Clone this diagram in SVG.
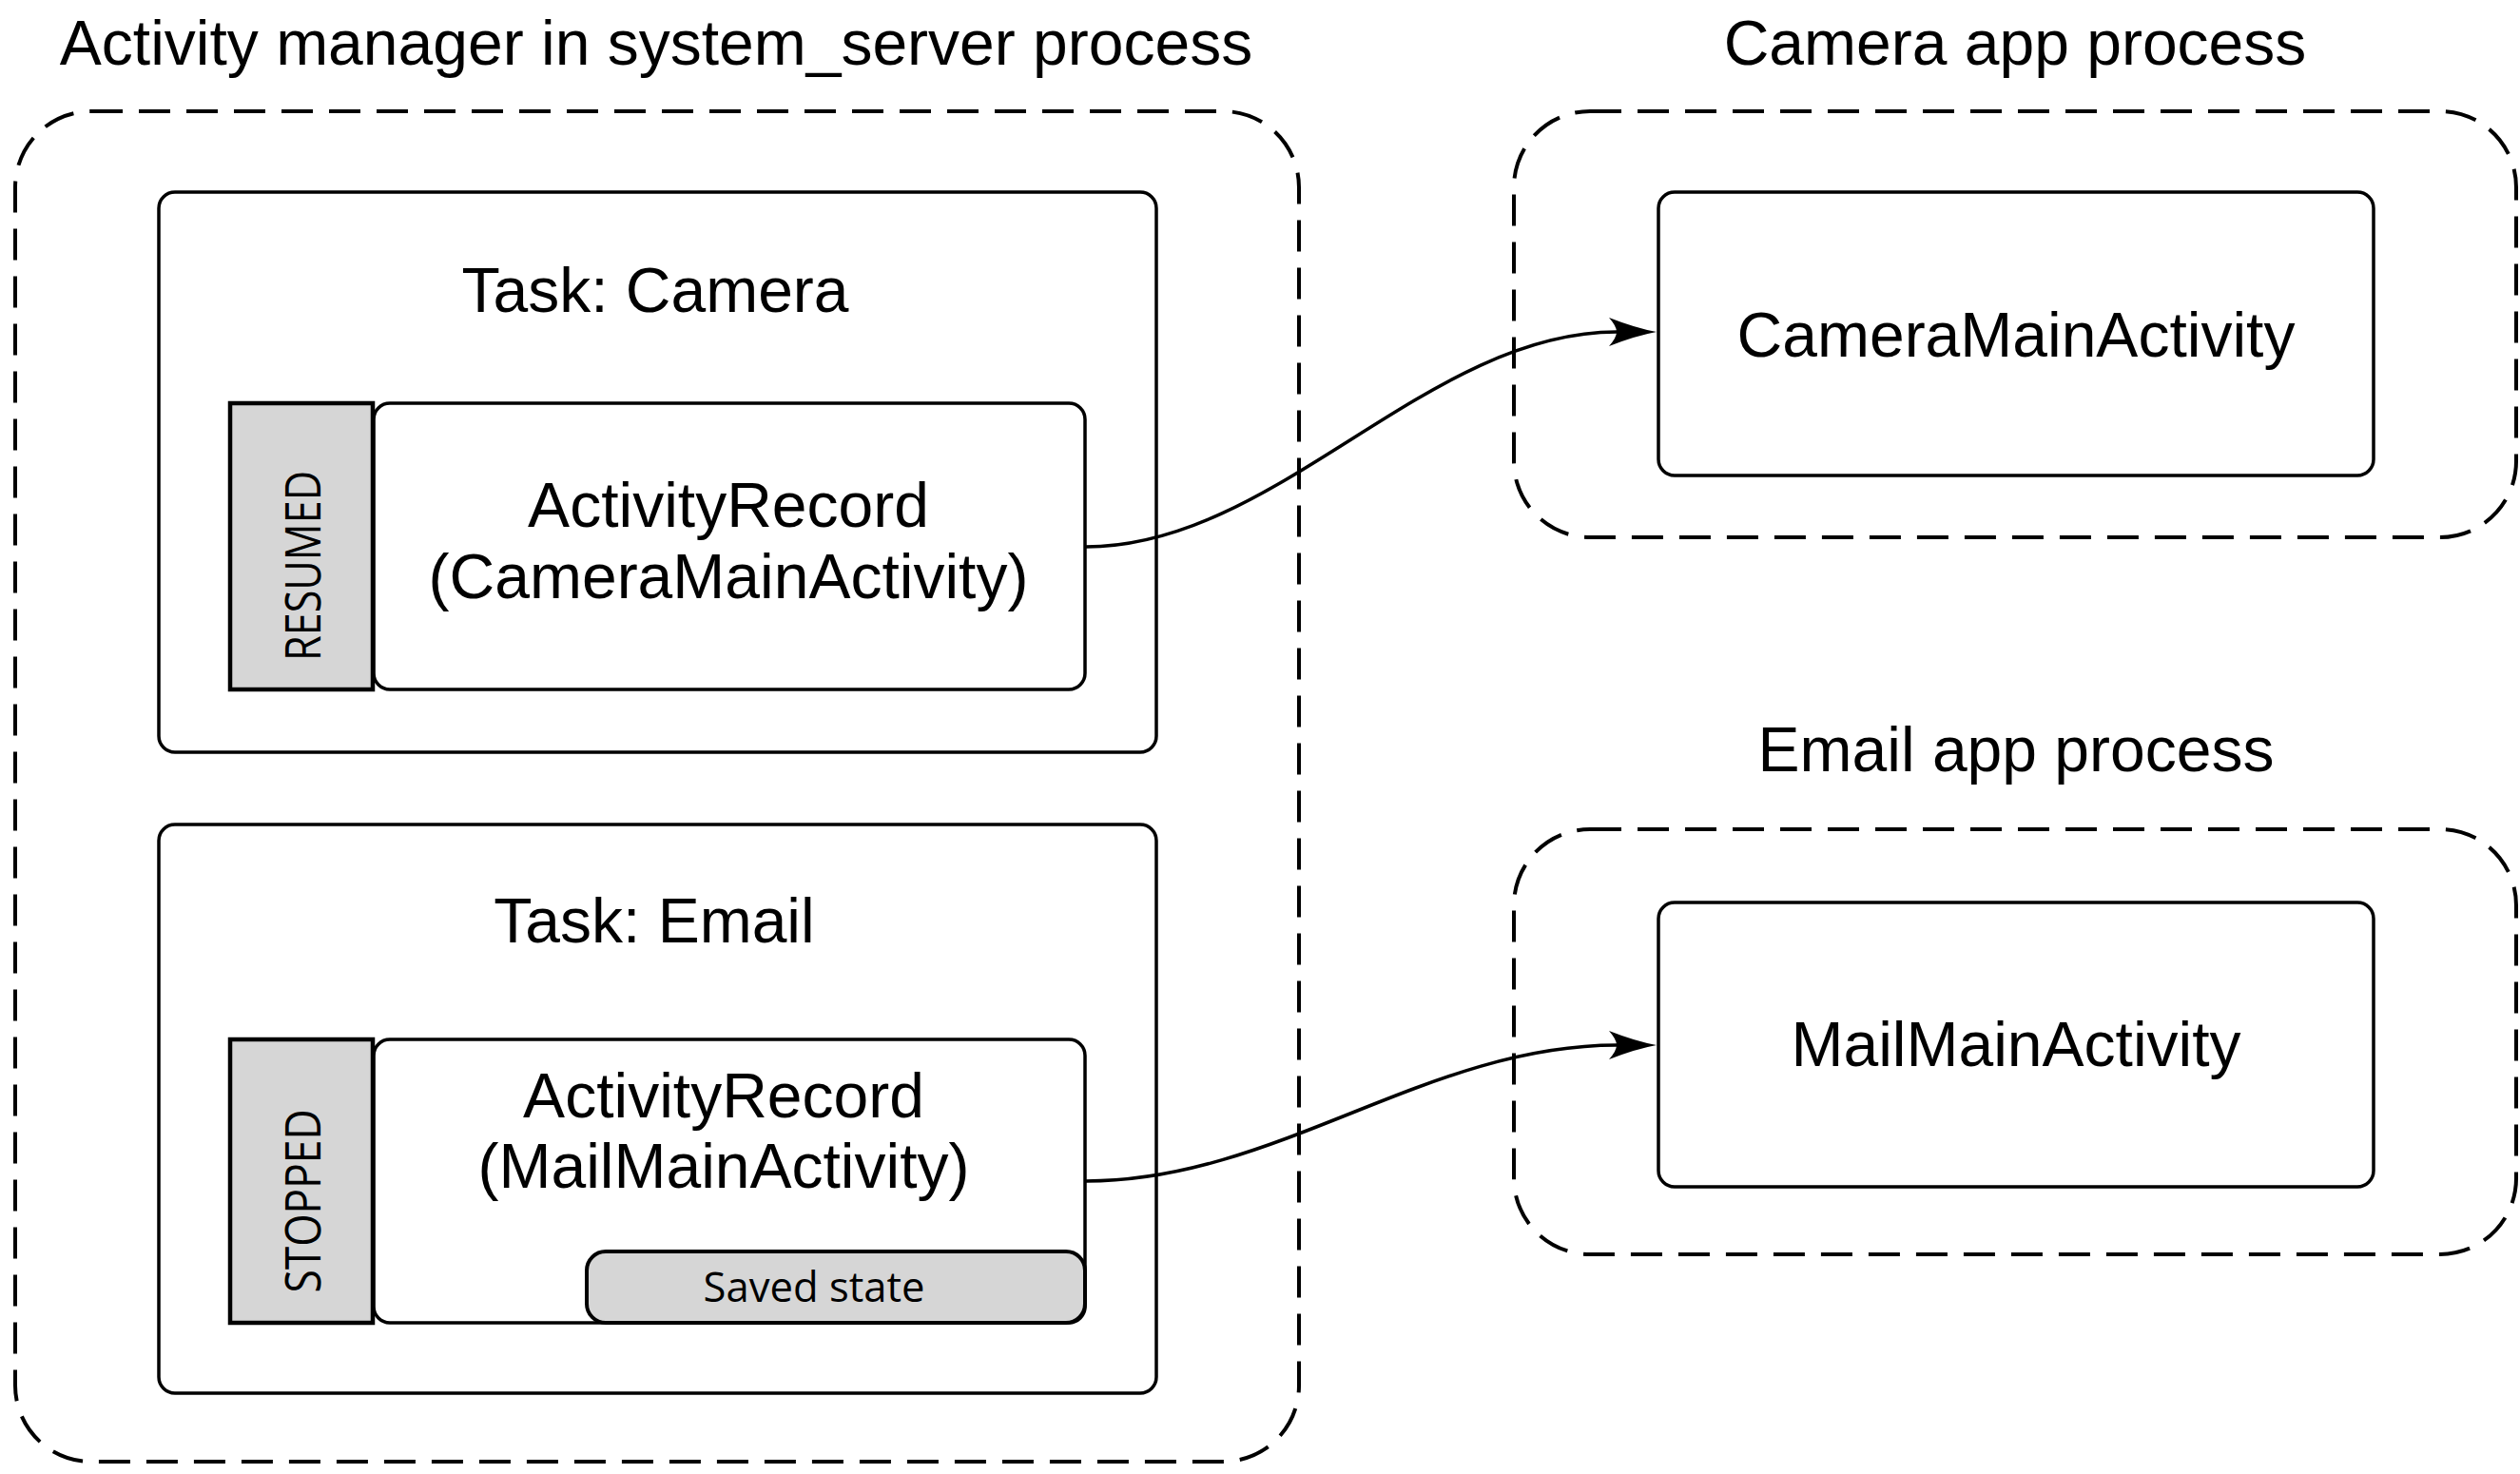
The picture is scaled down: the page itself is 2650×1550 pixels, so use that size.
<svg xmlns="http://www.w3.org/2000/svg" width="2650" height="1550" viewBox="0 0 2650 1550">
  <style>
    .lbl { font-family: "Liberation Sans", Arial, Helvetica, sans-serif; font-size: 66px; fill: #000; text-anchor: middle; }
    .small { font-family: "Open Sans", "Noto Sans", "DejaVu Sans", sans-serif; fill: #000; text-anchor: middle; }
    .proc { fill: none; stroke: #000; stroke-width: 4; stroke-dasharray: 33 17; }
    .box { fill: #fff; stroke: #000; stroke-width: 3.5; }
    .state { fill: #d6d6d6; stroke: #000; stroke-width: 4.5; }
    .saved { fill: #d6d6d6; stroke: #000; stroke-width: 4; }
    .conn { fill: none; stroke: #000; stroke-width: 3.5; }
  </style>
  <defs>
    <marker id="arrow" markerUnits="userSpaceOnUse" viewBox="-12 -20 60 40" refX="0" refY="0" markerWidth="60" markerHeight="40" orient="auto" overflow="visible">
      <path d="M42,0 Q20,-4 -8,-15 Q0,-6 0,0 Q0,6 -8,15 Q20,4 42,0 Z" fill="#000"/>
    </marker>
  </defs>
  <rect width="2650" height="1550" fill="#fff"/>

  <g id="system-server-process">
    <rect class="proc" x="16" y="117" width="1350" height="1420" rx="80" ry="80"/>
    <text class="lbl" x="690" y="68">Activity manager in system_server process</text>
  </g>

  <g id="task-camera">
    <rect class="box" x="167" y="202" width="1049" height="589" rx="17" ry="17"/>
    <text class="lbl" x="689" y="328">Task: Camera</text>
  </g>

  <g id="record-camera">
    <rect class="box" x="393" y="424" width="748" height="301" rx="17" ry="17"/>
    <text class="lbl" x="766" y="554">ActivityRecord</text>
    <text class="lbl" x="766" y="629">(CameraMainActivity)</text>
  </g>

  <g id="state-resumed">
    <rect class="state" x="242" y="424" width="150" height="301"/>
    <text class="small" font-size="52" textLength="200" lengthAdjust="spacingAndGlyphs" transform="translate(337,595) rotate(-90)">RESUMED</text>
  </g>

  <g id="task-email">
    <rect class="box" x="167" y="867" width="1049" height="598" rx="17" ry="17"/>
    <text class="lbl" x="688" y="991">Task: Email</text>
  </g>

  <g id="record-mail">
    <rect class="box" x="393" y="1093" width="748" height="298" rx="17" ry="17"/>
    <text class="lbl" x="761" y="1175">ActivityRecord</text>
    <text class="lbl" x="761" y="1249">(MailMainActivity)</text>
  </g>

  <g id="saved-state">
    <rect class="saved" x="617" y="1316" width="524" height="75" rx="20" ry="20"/>
    <text class="small" x="856" y="1369" font-size="44" textLength="233" lengthAdjust="spacingAndGlyphs">Saved state</text>
  </g>

  <g id="state-stopped">
    <rect class="state" x="242" y="1093" width="150" height="298"/>
    <text class="small" font-size="52" textLength="193" lengthAdjust="spacingAndGlyphs" transform="translate(337,1263) rotate(-90)">STOPPED</text>
  </g>

  <g id="camera-app-process">
    <rect class="proc" x="1592" y="117" width="1054" height="448" rx="80" ry="80"/>
    <text class="lbl" x="2119" y="68">Camera app process</text>
  </g>

  <g id="camera-main-activity">
    <rect class="box" x="1744" y="202" width="752" height="298" rx="17" ry="17"/>
    <text class="lbl" x="2120" y="375">CameraMainActivity</text>
  </g>

  <g id="email-app-process">
    <rect class="proc" x="1592" y="872" width="1054" height="447" rx="80" ry="80"/>
    <text class="lbl" x="2120" y="811">Email app process</text>
  </g>

  <g id="mail-main-activity">
    <rect class="box" x="1744" y="949" width="752" height="299" rx="17" ry="17"/>
    <text class="lbl" x="2120" y="1121">MailMainActivity</text>
  </g>

  <g id="connectors">
    <path class="conn" d="M1142,575 C1342,575 1500,349 1700,349" marker-end="url(#arrow)"/>
    <path class="conn" d="M1142,1242 C1342,1242 1500,1099 1700,1099" marker-end="url(#arrow)"/>
  </g>
</svg>
